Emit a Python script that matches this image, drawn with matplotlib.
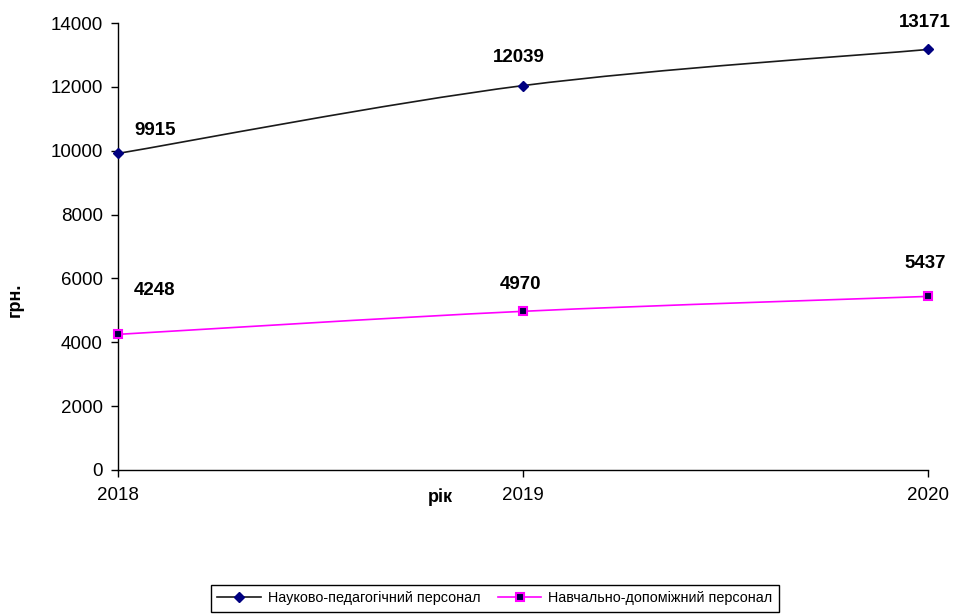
import numpy as np
import matplotlib
matplotlib.use("Agg")
import matplotlib.pyplot as plt
from matplotlib.path import Path
from matplotlib.patches import PathPatch
from matplotlib.lines import Line2D

plt.rcParams['font.family'] = ['Liberation Sans', 'DejaVu Sans']

years = [2018, 2019, 2020]
naukovo = [9915, 12039, 13171]
navchalno = [4248, 4970, 5437]
series_names = ["Науково-педагогічний персонал", "Навчально-допоміжний персонал"]

# зсув підписів даних (пікселі), як у вихідній діаграмі
label_offsets_top = [(37, 23), (-4, 28), (-3, 27)]
label_offsets_bottom = [(37, 44), (-2, 27), (-3, 33)]


def smooth_path(xs, ys):
    # згладжена лінія як в Excel (криві Безьє через точки)
    pts = np.column_stack([xs, ys]).astype(float)
    verts = [pts[0]]
    codes = [Path.MOVETO]
    n = len(pts)
    for i in range(n - 1):
        p0 = pts[max(i - 1, 0)]
        p1 = pts[i]
        p2 = pts[i + 1]
        p3 = pts[min(i + 2, n - 1)]
        c1 = p1 + (p2 - p0) / 6.0
        c2 = p2 - (p3 - p1) / 6.0
        verts += [c1, c2, p2]
        codes += [Path.CURVE4] * 3
    return Path(verts, codes)


fig = plt.figure(figsize=(9.56, 6.16), dpi=100)
ax = fig.add_axes([118 / 956, 1 - 470 / 616, (928 - 118) / 956, (470 - 23) / 616])

ax.add_patch(PathPatch(smooth_path(years, naukovo), facecolor='none',
                       edgecolor='#1a1a1a', lw=1.2, zorder=2))
ax.add_patch(PathPatch(smooth_path(years, navchalno), facecolor='none',
                       edgecolor='#ff00ff', lw=1.2, zorder=2))
ax.plot(years, naukovo, ls='none', marker='D', ms=5, color='#000080',
        zorder=3, clip_on=False)
ax.plot(years, navchalno, ls='none', marker='s', ms=6, mfc='#000040',
        mec='#ff00ff', mew=1.5, zorder=3, clip_on=False)

for x, y, off in zip(years, naukovo, label_offsets_top):
    ax.annotate(str(y), (x, y), xytext=off, textcoords='offset pixels',
                ha='center', va='center', fontsize=13.5, fontweight='bold')
for x, y, off in zip(years, navchalno, label_offsets_bottom):
    ax.annotate(str(y), (x, y), xytext=off, textcoords='offset pixels',
                ha='center', va='center', fontsize=13.5, fontweight='bold')

ax.set_xlim(2018, 2020)
ax.set_ylim(0, 14000)
ax.set_xticks(years)
ax.set_xticklabels([str(y) for y in years])
ax.set_yticks(range(0, 14001, 2000))
ax.tick_params(axis='both', labelsize=13.5, direction='out', length=5, width=1)
ax.tick_params(axis='x', pad=7)
ax.tick_params(axis='y', pad=6)
ax.spines['top'].set_visible(False)
ax.spines['right'].set_visible(False)
for s in ['left', 'bottom']:
    ax.spines[s].set_linewidth(1)

fig.text(15 / 956, 1 - 300 / 616, "грн.", rotation=90, ha='center', va='center',
         fontsize=13, fontweight='bold')
fig.text(440 / 956, 1 - 497 / 616, "рік", ha='center', va='center',
         fontsize=13, fontweight='bold')

handles = [
    Line2D([], [], color='#1a1a1a', lw=1.2, marker='D', ms=5, mfc='#000080', mec='#000080'),
    Line2D([], [], color='#ff00ff', lw=1.2, marker='s', ms=6, mfc='#000040',
           mec='#ff00ff', mew=1.5),
]
leg = fig.legend(handles, series_names, loc='center', ncol=2,
                 bbox_to_anchor=(495 / 956, 1 - 598 / 616), fontsize=10.4,
                 frameon=True, fancybox=False, edgecolor='black', framealpha=1,
                 handlelength=3, columnspacing=1.2, borderpad=0.45, handletextpad=0.5)
leg.get_frame().set_linewidth(1)

fig.savefig("out.png", dpi=100)
